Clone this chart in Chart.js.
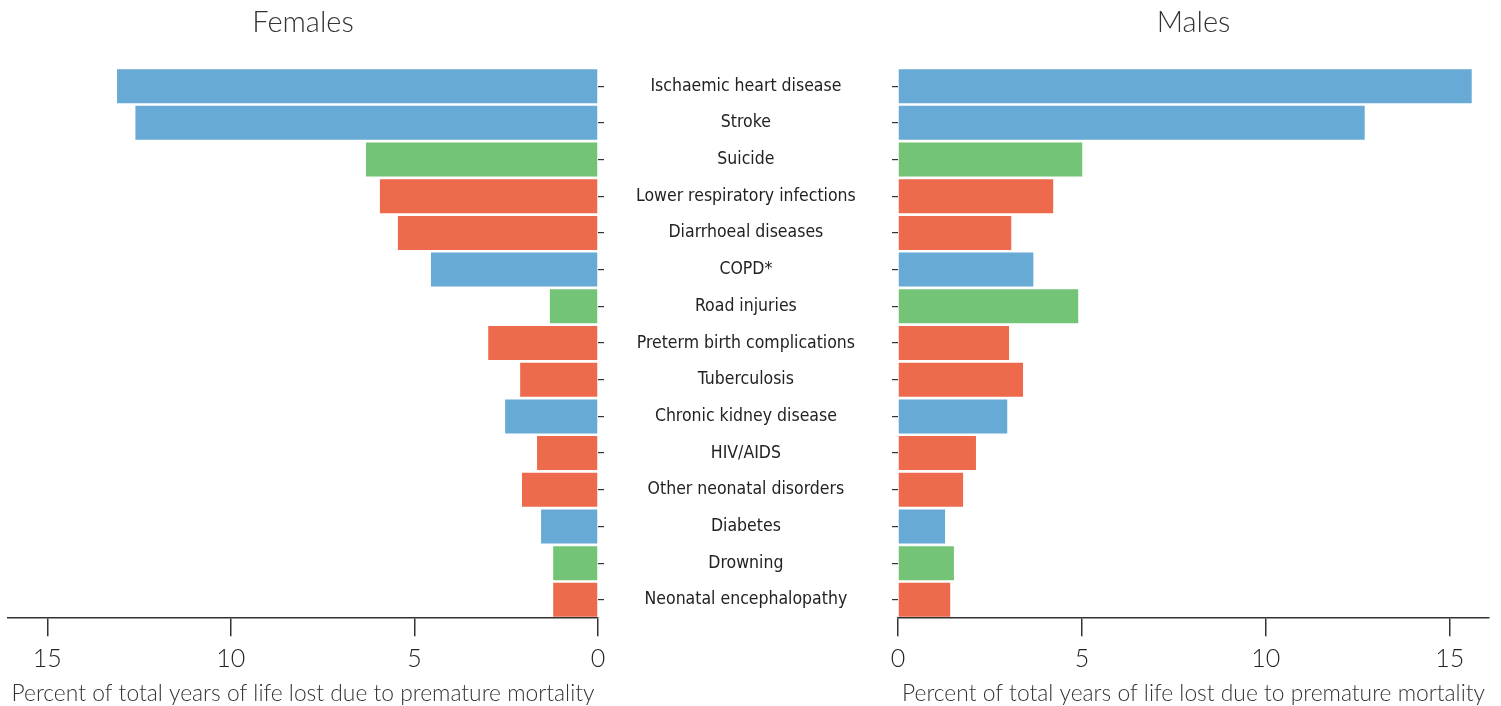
<!DOCTYPE html>
<html>
<head>
<meta charset="utf-8">
<script src="https://cdn.jsdelivr.net/npm/chart.js@4.4.1/dist/chart.umd.min.js"></script>
<style>
  html, body { margin: 0; padding: 0; background: #fff; }
  #wrap { position: relative; width: 1501px; height: 706px; }
  #femalesBox { position: absolute; left: 0; top: 0; width: 892px; height: 706px; }
  #malesBox { position: absolute; left: 878px; top: 0; width: 623px; height: 706px; }
</style>
</head>
<body>
<div id="wrap">
  <div id="femalesBox"><canvas id="femalesChart"></canvas></div>
  <div id="malesBox"><canvas id="malesChart"></canvas></div>
</div>
<script>
// Causes de décès (ordre du haut vers le bas)
const categories = [
    "Ischaemic heart disease", "Stroke", "Suicide", "Lower respiratory infections",
    "Diarrhoeal diseases", "COPD*", "Road injuries", "Preterm birth complications",
    "Tuberculosis", "Chronic kidney disease", "HIV/AIDS", "Other neonatal disorders",
    "Diabetes", "Drowning", "Neonatal encephalopathy"
];

// Groupe de chaque cause
const causeGroups = [
    "ncd", "ncd", "injury", "communicable",
    "communicable", "ncd", "injury", "communicable",
    "communicable", "ncd", "communicable", "communicable",
    "ncd", "injury", "communicable"
];

// % des années de vie perdues
const femalesValues = [13.1, 12.6, 6.32, 5.94, 5.45, 4.55, 1.31, 2.99, 2.12, 2.53, 1.66, 2.07, 1.55, 1.22, 1.22];
const malesValues = [15.6, 12.69, 5.01, 4.22, 3.08, 3.68, 4.90, 3.02, 3.40, 2.97, 2.12, 1.77, 1.28, 1.52, 1.42];

const xTickValues = [0, 5, 10, 15];
const axisTitle = "Percent of total years of life lost due to premature mortality";

const groupColors = { ncd: "#67aad5", injury: "#73c476", communicable: "#ee6a4d" };
const barColors = causeGroups.map(g => groupColors[g]);

const labelFont = "'Liberation Sans Narrow', 'DejaVu Sans Condensed', 'Noto Sans', sans-serif";
const lightFont = "Lato, 'Open Sans', sans-serif";
const inkColor = "#333";

function xScale(reverse) {
    return {
        type: "linear",
        min: 0,
        max: 16.07,
        reverse: reverse,
        border: { display: true, color: inkColor, width: 1.5 },
        grid: { drawOnChartArea: false, drawTicks: true, tickLength: 18, color: inkColor, lineWidth: 1.5 },
        afterBuildTicks: (scale) => { scale.ticks = xTickValues.map(v => ({ value: v })); },
        ticks: { color: "#222", padding: 8, font: { family: lightFont, size: 25, weight: 300 } },
        title: {
            display: true,
            text: axisTitle,
            color: inkColor,
            padding: { top: 0, bottom: 1 },
            font: { family: lightFont, size: 22.8, weight: 300, lineHeight: 1 }
        }
    };
}

function titleOptions(text) {
    return {
        display: true,
        text: text,
        fullSize: false,
        color: inkColor,
        padding: { top: 5, bottom: 28 },
        font: { family: lightFont, size: 29, weight: 300 }
    };
}

// Graphique des femmes (axe inversé, libellés au centre)
const femalesChart = new Chart(document.getElementById("femalesChart"), {
    type: "bar",
    data: {
        labels: categories,
        datasets: [{
            data: femalesValues,
            backgroundColor: barColors,
            barPercentage: 0.927,
            categoryPercentage: 1
        }]
    },
    options: {
        indexAxis: "y",
        responsive: true,
        maintainAspectRatio: false,
        animation: false,
        layout: { padding: { left: 8, right: 0, top: 0, bottom: 0 } },
        plugins: {
            legend: { display: false },
            tooltip: { enabled: false },
            title: titleOptions("Females")
        },
        scales: {
            x: xScale(true),
            y: {
                position: "right",
                border: { display: false },
                grid: { drawOnChartArea: false, offset: false, drawTicks: true, tickLength: 6, color: inkColor, lineWidth: 1.2 },
                ticks: {
                    crossAlign: "center",
                    padding: 32,
                    color: "#222",
                    font: { family: labelFont, size: 17.5 }
                },
                afterFit: (scale) => { scale.width = 294; }
            }
        }
    }
});

// Graphique des hommes
const malesChart = new Chart(document.getElementById("malesChart"), {
    type: "bar",
    data: {
        labels: categories,
        datasets: [{
            data: malesValues,
            backgroundColor: barColors,
            barPercentage: 0.927,
            categoryPercentage: 1
        }]
    },
    options: {
        indexAxis: "y",
        responsive: true,
        maintainAspectRatio: false,
        animation: false,
        layout: { padding: { left: 0, right: 12, top: 0, bottom: 0 } },
        plugins: {
            legend: { display: false },
            tooltip: { enabled: false },
            title: titleOptions("Males")
        },
        scales: {
            x: xScale(false),
            y: {
                position: "left",
                border: { display: false },
                grid: { drawOnChartArea: false, offset: false, drawTicks: true, tickLength: 6, color: inkColor, lineWidth: 1.2 },
                ticks: { display: false },
                afterFit: (scale) => { scale.width = 20; }
            }
        }
    }
});
</script>
</body>
</html>
